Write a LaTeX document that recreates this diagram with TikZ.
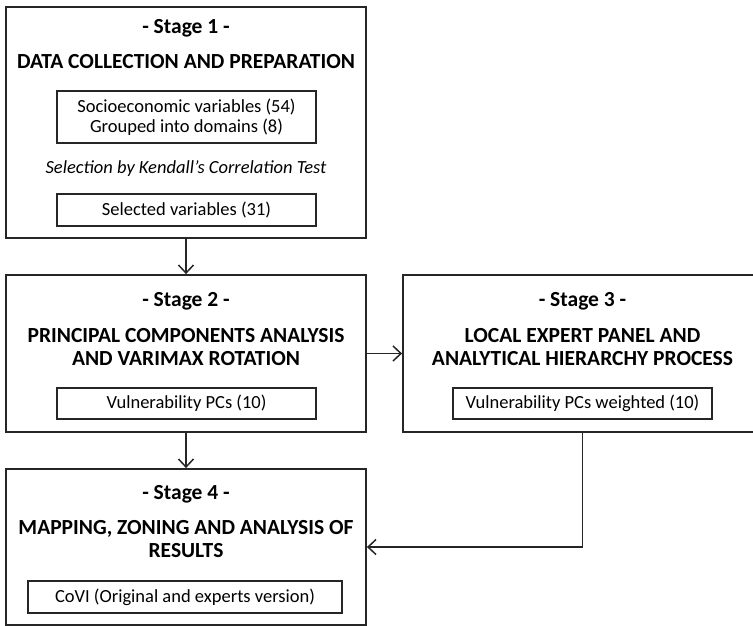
\documentclass[tikz,border=0pt]{standalone}
\usepackage{fontspec}
\setmainfont{Carlito}
\usepackage{tikz}
\usetikzlibrary{arrows.meta}

\begin{document}
\begin{tikzpicture}[x=1pt,y=-1pt,
		stagebox/.style={shape=rectangle,draw=black!85,line width=1.8pt,inner sep=0pt},
		itembox/.style={shape=rectangle,draw=black!85,line width=1.7pt,inner sep=0pt,align=center,font=\fontsize{18.5}{20.5}\selectfont},
		headtext/.style={anchor=base,font=\bfseries\fontsize{21.5}{22.5}\selectfont},
		titletext/.style={align=center,font=\bfseries\fontsize{21.5}{22.5}\selectfont},
		flow/.style={draw=black!85,line width=1.5pt,-{Straight Barb[length=8pt,width=15pt]}}]
		\clip[use as bounding box] (0,0) rectangle (753,626);
		
		\node[stagebox,minimum width=360,minimum height=231] (Stage1) at (186,122.5) {};
		\node[stagebox,minimum width=360,minimum height=157] (Stage2) at (186,353.5) {};
		\node[stagebox,minimum width=359,minimum height=157] (Stage3) at (582.5,353.5) {};
		\node[stagebox,minimum width=360,minimum height=156] (Stage4) at (186,547) {};
		
		\foreach \n/\x/\y in {1/186/34,2/186/306,3/582.5/306,4/186/499} {
			\node[headtext] (Head\n) at (\x,\y) {- Stage \n\ -};
		}
		
		\node[headtext] (Title1) at (186,69) {DATA COLLECTION AND PREPARATION};
		\node[titletext] (Title2) at (186,347) {PRINCIPAL COMPONENTS ANALYSIS\\AND VARIMAX ROTATION};
		\node[titletext] (Title3) at (582.5,347) {LOCAL EXPERT PANEL AND\\ANALYTICAL HIERARCHY PROCESS};
		\node[titletext] (Title4) at (186,539) {MAPPING, ZONING AND ANALYSIS OF\\RESULTS};
		
		\node[itembox,minimum width=259,minimum height=52] (Variables) at (186.5,117) {Socioeconomic variables (54)\\Grouped into domains (8)};
		\node[anchor=base,font=\itshape\fontsize{18.5}{20.5}\selectfont] (Kendall) at (186,173) {Selection by Kendall’s Correlation Test};
		\node[itembox,minimum width=259,minimum height=32] (Selected) at (186.5,210) {Selected variables (31)};
		\node[itembox,minimum width=259,minimum height=31] (PCs) at (186.5,403.5) {Vulnerability PCs (10)};
		\node[itembox,minimum width=259,minimum height=31] (Weighted) at (582.5,403.5) {Vulnerability PCs weighted (10)};
		\node[itembox,minimum width=314,minimum height=32] (CoVI) at (185,597) {CoVI (Original and experts version)};
		
		\draw[flow] (Stage1) to (Stage2);
		\draw[flow] (Stage2) to (Stage3);
		\draw[flow] (Stage2) to (Stage4);
		\draw[flow] (Stage3.south) |- (Stage4.east);
		
	\end{tikzpicture}
\end{document}
